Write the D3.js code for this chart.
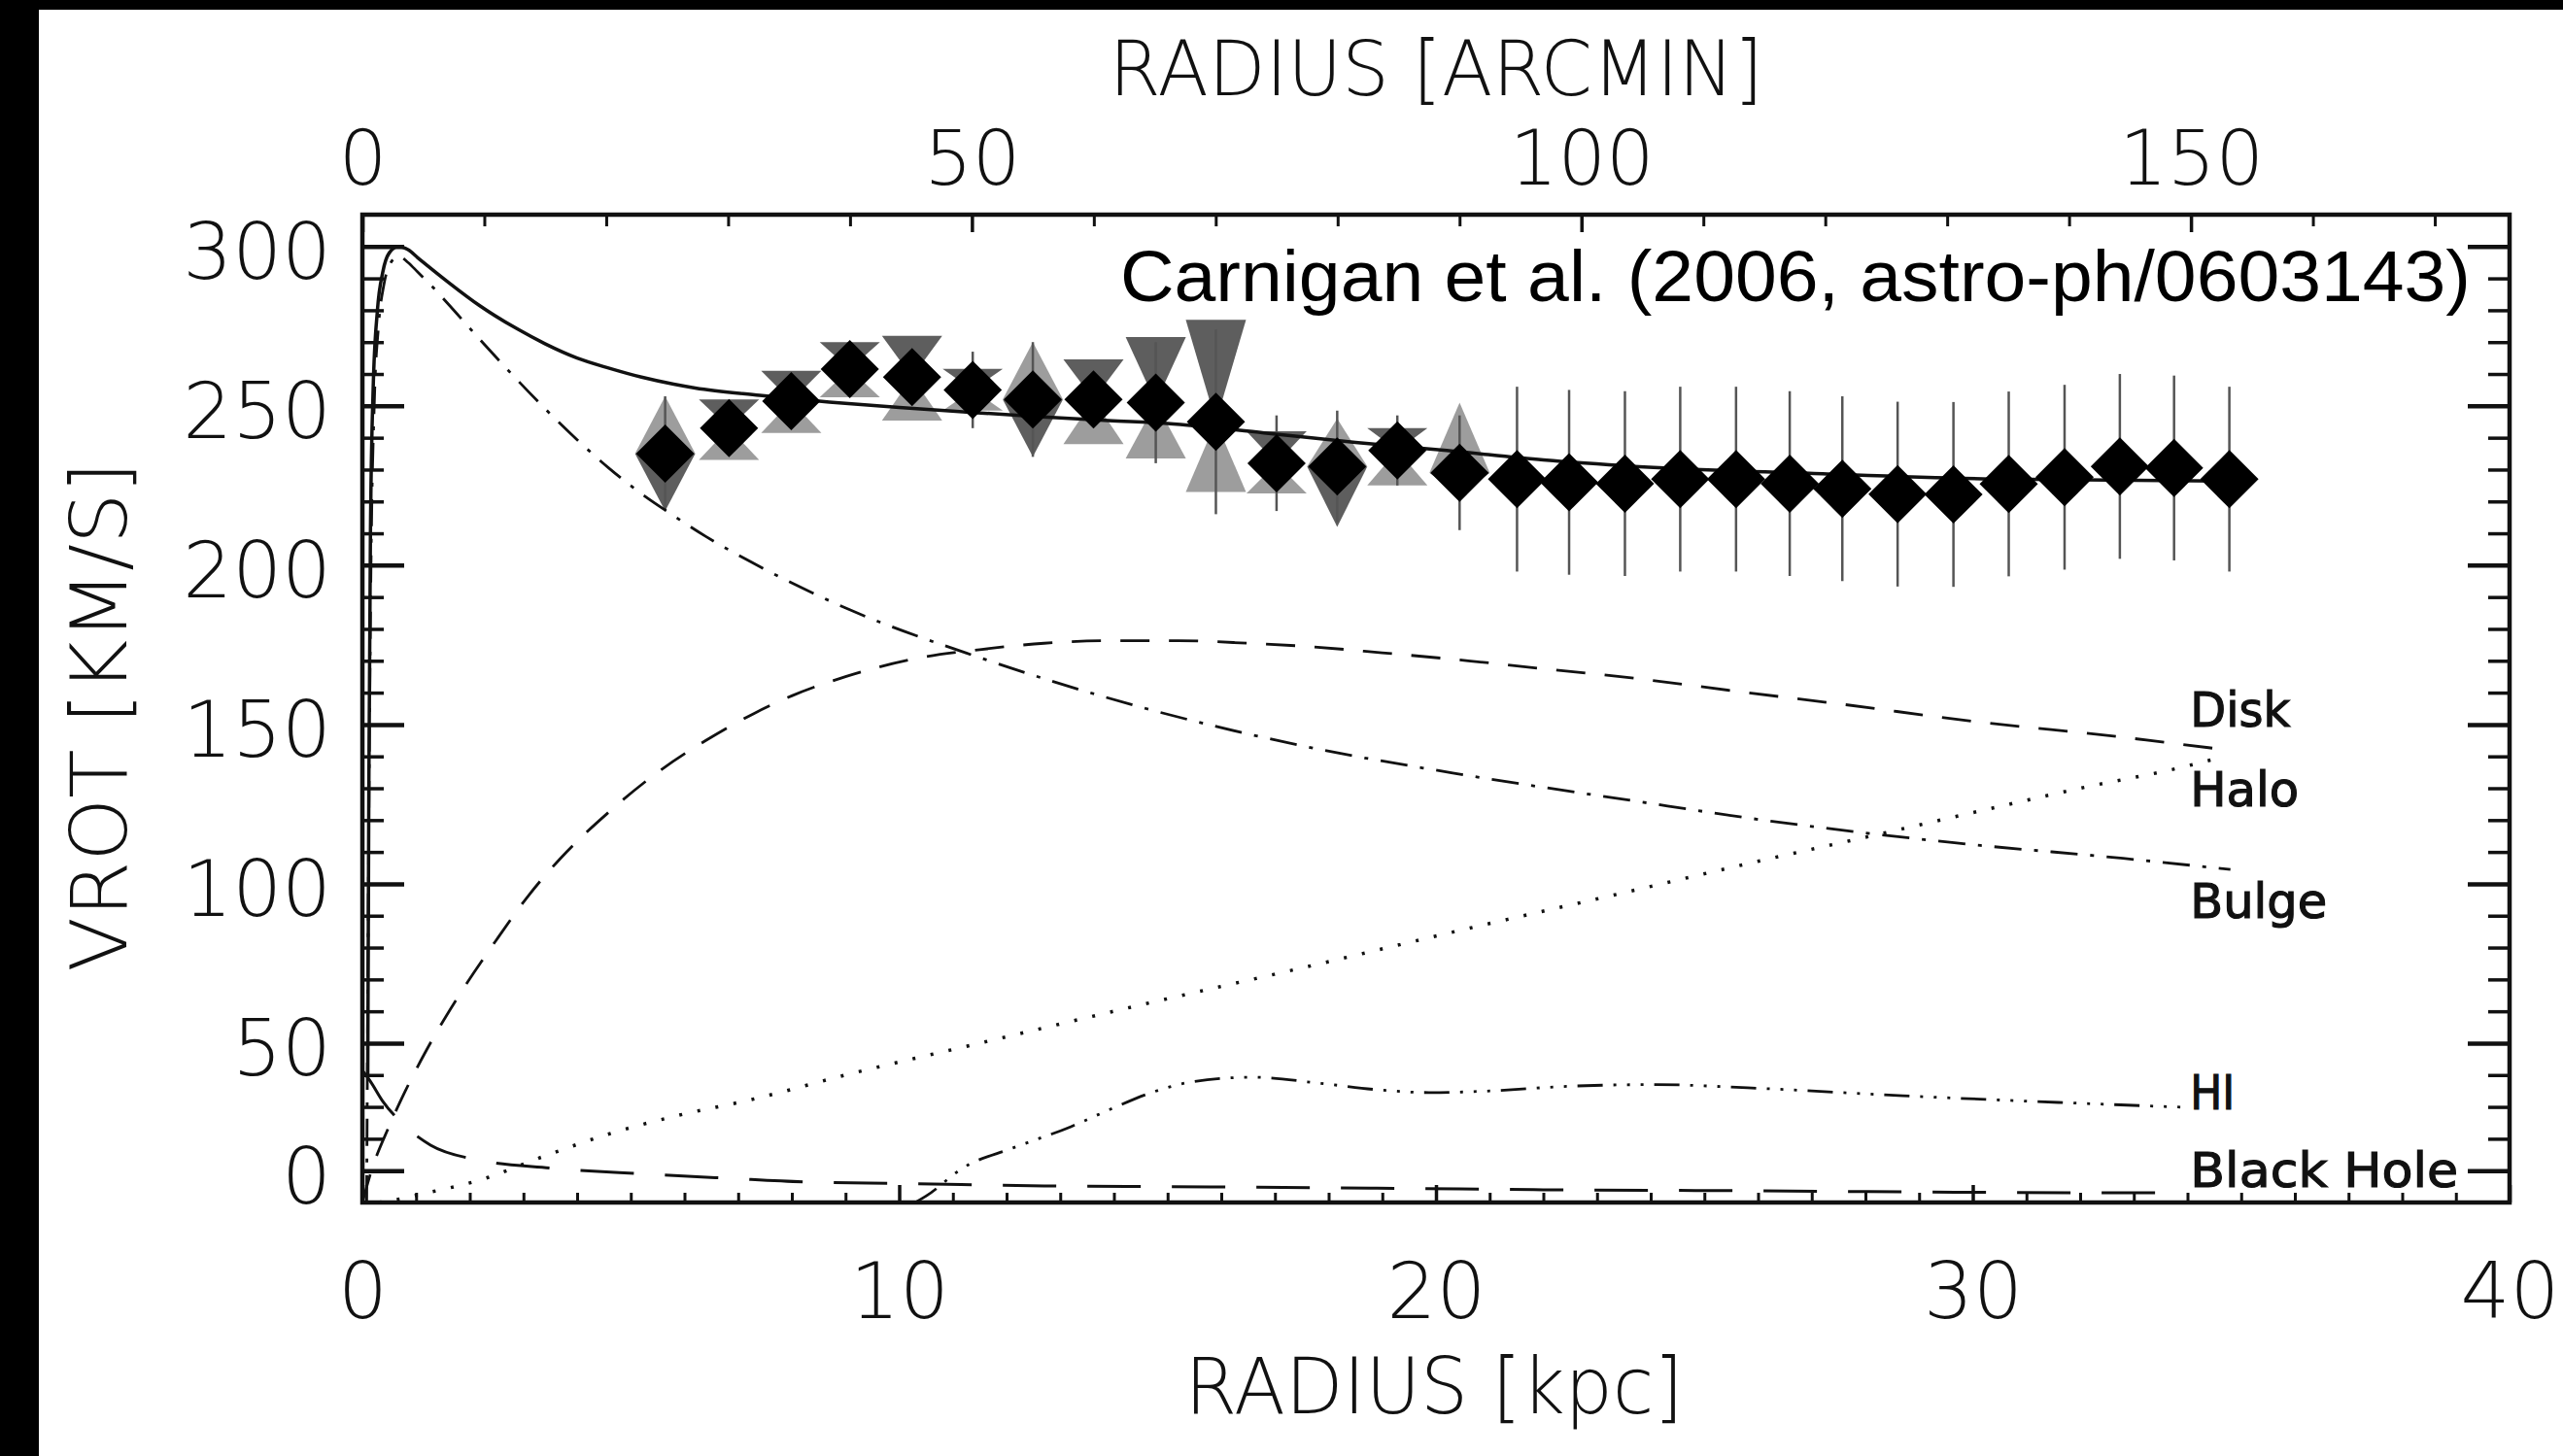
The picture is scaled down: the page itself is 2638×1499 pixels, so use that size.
<!DOCTYPE html>
<html><head><meta charset="utf-8">
<script src="https://cdn.jsdelivr.net/npm/d3@7"></script>
<style>html,body{margin:0;padding:0;background:#fff;} svg{display:block}</style>
</head><body>
<svg id="chart" width="2638" height="1499"></svg>
<script>
// ---------------- DATA ----------------
// observed rotation curve (mean, diamonds)
const radiusKpc = [5.64, 6.83, 7.99, 9.08, 10.24, 11.37, 12.49, 13.62, 14.78, 15.90, 17.03, 18.16, 19.28, 20.44,
                   21.51, 22.48, 23.52, 24.55, 25.59, 26.59, 27.57, 28.60, 29.64, 30.67, 31.71, 32.74, 33.75, 34.78];
const vrot      = [235, 243, 251.5, 261.5, 259, 255, 252, 252, 251, 245, 232, 231, 236, 229,
                   227, 226, 225.6, 227, 227, 225.6, 224, 222.3, 222.2, 225.5, 227.6, 231, 230.5, 227];
const vErr      = [18, 8, 8, 8, 8, 12, 18, 8, 19, 29, 15, 17.5, 11, 18,
                   29, 29, 29, 29, 29, 29, 29, 29, 29, 29, 29, 29, 29, 29];
// approaching side (light grey up-triangles) and receding side (dark grey down-triangles)
const vApproach = [253, 233, 241.5, 252.7, 245.4, 248.5, 270, 238, 233.5, 223, 222.5, 246, 225, 251,
                   null, null, null, null, null, null, null, null, null, null, null, null, null, null];
const vRecede   = [217, 252, 261, 270, 272, 261.6, 234, 264.6, 271.6, 277, 242, 212, 243, 222,
                   null, null, null, null, null, null, null, null, null, null, null, null, null, null];

// model curves: radius (kpc) and velocity (km/s)
const totalR = [0.10,0.12,0.15,0.20,0.28,0.38,0.50,0.67,0.85,1.03,1.36,1.60,2.18,2.90,3.40,4.00,4.60,5.20,5.80,6.20,7.40,8.70,10.0,11.3,12.6,13.9,15.0,16.8,18.5,20.2,22.0,23.7,27.2,30.6,34.1,34.9];
const totalV = [40,130,210,255,280,292,298,300,299,296.5,292,288.8,281.5,274,269.5,265,261.8,259,256.8,255.6,253.3,251.2,249.5,248,246.6,245.4,244.5,241.5,238.5,236,233,231,228.7,227,226.5,226.3];

const bulgeR = [0.08,0.12,0.16,0.22,0.30,0.40,0.50,0.67,0.85,1.03,1.27,1.57,2.18,2.78,3.38,3.99,4.59,5.19,5.80,6.40,7.24,9.08,11.5,14.6,17.6,20.6,23.7,25.8,29.7,32.8,34.8];
const bulgeV = [0,120,200,250,275,288,294,297,295,292,288,282.5,271,260,249.5,239.5,230.5,222.5,215.5,209,201,186,171,155,143,134,126,120.7,112.8,108,104.5];

const diskR = [0,0.15,0.5,0.8,1.2,1.8,2.48,3.08,3.69,4.59,5.5,6.4,7.3,8.0,9.0,10.4,11.5,12.7,14.0,15.2,16.5,17.6,19.0,20.6,22.0,23.7,25.8,27.5,30.0,32.8,34.5];
const diskV = [0,9,24,35,48,65,82,96,108,122.5,135,145,153.5,159,165,171,173.5,175.5,176.3,176.3,175.5,174.5,172.5,170,167.5,164.5,160,156.5,151,146,142.5];

const haloR = [0.3,0.67,1.2,2.18,3.38,4.59,5.8,7.3,9.0,11.5,14.5,17.6,20.6,23.7,25.9,28.1,30.3,32.0,33.9,34.6];
const haloV = [0,1,3,7,14.5,21.5,27,32.5,40,50,62,74,86,98,106.7,115,123.5,130,136.6,139.6];

const hiR = [10.3,10.5,11.2,12.1,13.2,13.9,14.7,15.5,16.6,17.8,18.9,19.9,21.0,22.5,24.1,25.8,28.7,31.6,33.9];
const hiV = [0,2,11,17,23.8,29,34.5,38,39.3,37.5,35.4,34.5,35,36.5,37,36,33.5,31.4,29.9];

const bhR = [0.02,0.15,0.37,0.67,1.27,2.1,3.5,5.2,6.8,8.3,10,12.7,15.8,18.9,22,25.6,30,33.9];
const bhV = [41,38,32,26,18,13.5,10.8,9,7.6,6.4,6,5.2,4.9,4.5,4,3.7,3.2,3];

// axes
const xTickValues = [0, 10, 20, 30, 40];
const xTopTickValues = [0, 50, 100, 150];
const yTickValues = [10, 50, 100, 150, 200, 250, 300];
const yTickLabels = ["0", "50", "100", "150", "200", "250", "300"];
const componentLabels = ["Disk", "Halo", "Bulge", "HI", "Black Hole"];
const kpcPerArcmin = 0.2271;
const annotation = "Carnigan et al. (2006, astro-ph/0603143)";

// ---------------- LAYOUT ----------------
const W = 2638, H = 1499;
const L = 373, R = 2583, T = 221, B = 1238;
const svg = d3.select("#chart");
svg.append("rect").attr("width", W).attr("height", H).attr("fill", "#fff");
svg.append("rect").attr("x", 0).attr("y", 0).attr("width", 40).attr("height", H).attr("fill", "#000");
svg.append("rect").attr("x", 0).attr("y", 0).attr("width", W).attr("height", 10).attr("fill", "#000");

const x = d3.scaleLinear().domain([0, 40]).range([L, R]);
const xTop = d3.scaleLinear().domain([0, 40 / kpcPerArcmin]).range([L, R]);
const y = d3.scaleLinear().domain([0, 310]).range([B, T]);

const axisFont = "'DejaVu Sans', sans-serif";
function styleAxis(g, fs) {
  g.select(".domain").remove();
  g.selectAll("text").attr("font-family", axisFont).attr("font-weight", 200)
    .attr("font-size", fs).attr("fill", "#111");
}

// minor ticks
const yMinor = d3.range(20, 300, 10).filter(v => !yTickValues.includes(v));
const xMinor = d3.range(1, 40, 1).filter(v => v % 10 !== 0);
const xTopMinor = d3.range(10, 176, 10).filter(v => v % 50 !== 0);

function minor(axisGen, tr, sw) {
  const g = svg.append("g").attr("transform", tr).call(axisGen);
  g.select(".domain").remove();
  g.selectAll("text").remove();
  g.selectAll("line").attr("stroke", "#111").attr("stroke-width", sw);
  return g;
}
minor(d3.axisLeft(y).tickValues(yMinor).tickSize(-22), `translate(${L},0)`, 3.5);
minor(d3.axisRight(y).tickValues(yMinor).tickSize(-22), `translate(${R},0)`, 3.5);
minor(d3.axisBottom(x).tickValues(xMinor).tickSize(-10), `translate(0,${B})`, 3);
minor(d3.axisTop(xTop).tickValues(xTopMinor).tickSize(-12), `translate(0,${T})`, 3);

// major left
const gl = svg.append("g").attr("transform", `translate(${L},0)`)
  .call(d3.axisLeft(y).tickValues(yTickValues).tickSize(-43).tickPadding(32)
        .tickFormat((d, i) => yTickLabels[i]));
styleAxis(gl, 80);
gl.selectAll("line").attr("stroke", "#111").attr("stroke-width", 4.5);
gl.selectAll("text").attr("dy", "0.41em");

const gr = svg.append("g").attr("transform", `translate(${R},0)`)
  .call(d3.axisRight(y).tickValues(yTickValues).tickSize(-43).tickFormat(""));
gr.select(".domain").remove();
gr.selectAll("line").attr("stroke", "#111").attr("stroke-width", 4.5);

const gb = svg.append("g").attr("transform", `translate(0,${B})`)
  .call(d3.axisBottom(x).tickValues(xTickValues).tickSize(-18).tickPadding(62).tickFormat(d3.format("d")));
styleAxis(gb, 80);
gb.selectAll("line").attr("stroke", "#111").attr("stroke-width", 3.5);

const gt = svg.append("g").attr("transform", `translate(0,${T})`)
  .call(d3.axisTop(xTop).tickValues(xTopTickValues).tickSize(-18).tickPadding(31).tickFormat(d3.format("d")));
styleAxis(gt, 78);
gt.selectAll("line").attr("stroke", "#111").attr("stroke-width", 3.5);

// frame
svg.append("rect").attr("x", L).attr("y", T).attr("width", R - L).attr("height", B - T)
  .attr("fill", "none").attr("stroke", "#111").attr("stroke-width", 4.5);

// titles
function title(txt, tx, ty, len, rot, fs) {
  svg.append("text").attr("transform", `translate(${tx},${ty})` + (rot ? ` rotate(${rot})` : ""))
    .attr("text-anchor", "middle").attr("font-family", axisFont).attr("font-weight", 200)
    .attr("font-size", fs).attr("fill", "#111")
    .attr("textLength", len).attr("lengthAdjust", "spacingAndGlyphs").text(txt);
}
title("RADIUS [ARCMIN]", 1478, 98, 673, 0, 78);
title("RADIUS [kpc]", 1476, 1455, 513, 0, 80);
title("VROT [KM/S]", 130, 738, 525, -90, 80);

// ---------------- MARKS ----------------
const plot = svg.append("g");
const pts = radiusKpc.map((r, i) => ({r, v: vrot[i], e: vErr[i], a: vApproach[i], d: vRecede[i]}));

function triPath(p, vt, up) {
  const cx = x(p.r), yc = y(p.v), yt = y(vt), hw = 31;
  const base = up ? Math.max(yt, yc) : Math.min(yt, yc);
  const tip = up ? Math.min(yt, yc) : Math.max(yt, yc);
  const pth = d3.path();
  pth.moveTo(cx - hw, base); pth.lineTo(cx + hw, base); pth.lineTo(cx, tip); pth.closePath();
  return pth.toString();
}
plot.selectAll("path.recede").data(pts.filter(p => p.d != null)).join("path")
  .attr("class", "recede").attr("d", p => triPath(p, p.d, false)).attr("fill", "#5e5e5e");
plot.selectAll("path.approach").data(pts.filter(p => p.a != null)).join("path")
  .attr("class", "approach").attr("d", p => triPath(p, p.a, true)).attr("fill", "#9d9d9d");

plot.selectAll("line.err").data(pts).join("line").attr("class", "err")
  .attr("x1", p => x(p.r)).attr("x2", p => x(p.r))
  .attr("y1", p => y(p.v - p.e)).attr("y2", p => y(p.v + p.e))
  .attr("stroke", "#555").attr("stroke-width", 2.5);

// model curves
const lineGen = d3.line().x(d => x(d[0])).y(d => y(d[1])).curve(d3.curveMonotoneX);
const zip = (a, b) => a.map((v, i) => [v, b[i]]);
const curves = [
  {R: diskR, V: diskV, dash: "30,20", w: 2.8},
  {R: bulgeR, V: bulgeV, dash: "28,13,4,13", w: 2.8},
  {R: haloR, V: haloV, dash: "3,16", w: 3.5},
  {R: hiR, V: hiV, dash: "26,11,3,11,3,11,3,11", w: 2.8},
  {R: bhR, V: bhV, dash: "55,32", w: 3},
  {R: totalR, V: totalV, dash: null, w: 3.5}
];
plot.selectAll("path.curve").data(curves).join("path").attr("class", "curve")
  .attr("d", c => lineGen(zip(c.R, c.V))).attr("fill", "none").attr("stroke", "#111")
  .attr("stroke-width", c => c.w).attr("stroke-dasharray", c => c.dash);

// diamonds
const diamondType = {draw(ctx, size) { const r = Math.sqrt(size / 2);
  ctx.moveTo(0, -r); ctx.lineTo(r, 0); ctx.lineTo(0, r); ctx.lineTo(-r, 0); ctx.closePath(); }};
plot.selectAll("path.dia").data(pts).join("path").attr("class", "dia")
  .attr("transform", p => `translate(${x(p.r)},${y(p.v)})`)
  .attr("d", d3.symbol().type(diamondType).size(1800)).attr("fill", "#000");

// component labels
const labelX = 34.05;
const labelV = [149.4, 124.4, 89.3, 29.3, 4.9];
const labelLen = [103, 112, 141, 46, 276];
svg.selectAll("text.comp").data(componentLabels).join("text").attr("class", "comp")
  .attr("x", x(labelX)).attr("y", (d, i) => y(labelV[i]))
  .attr("font-family", "'DejaVu Sans', sans-serif").attr("font-size", 50)
  .attr("fill", "#111").attr("stroke", "#111").attr("stroke-width", 1.2)
  .attr("textLength", (d, i) => labelLen[i]).attr("lengthAdjust", "spacingAndGlyphs")
  .text(d => d);

// annotation
svg.append("text").attr("x", 1153).attr("y", 310)
  .attr("font-family", "'Liberation Sans', Arial, sans-serif").attr("font-size", 75)
  .attr("fill", "#000").attr("textLength", 1390).attr("lengthAdjust", "spacingAndGlyphs")
  .text(annotation);
</script>
</body></html>
